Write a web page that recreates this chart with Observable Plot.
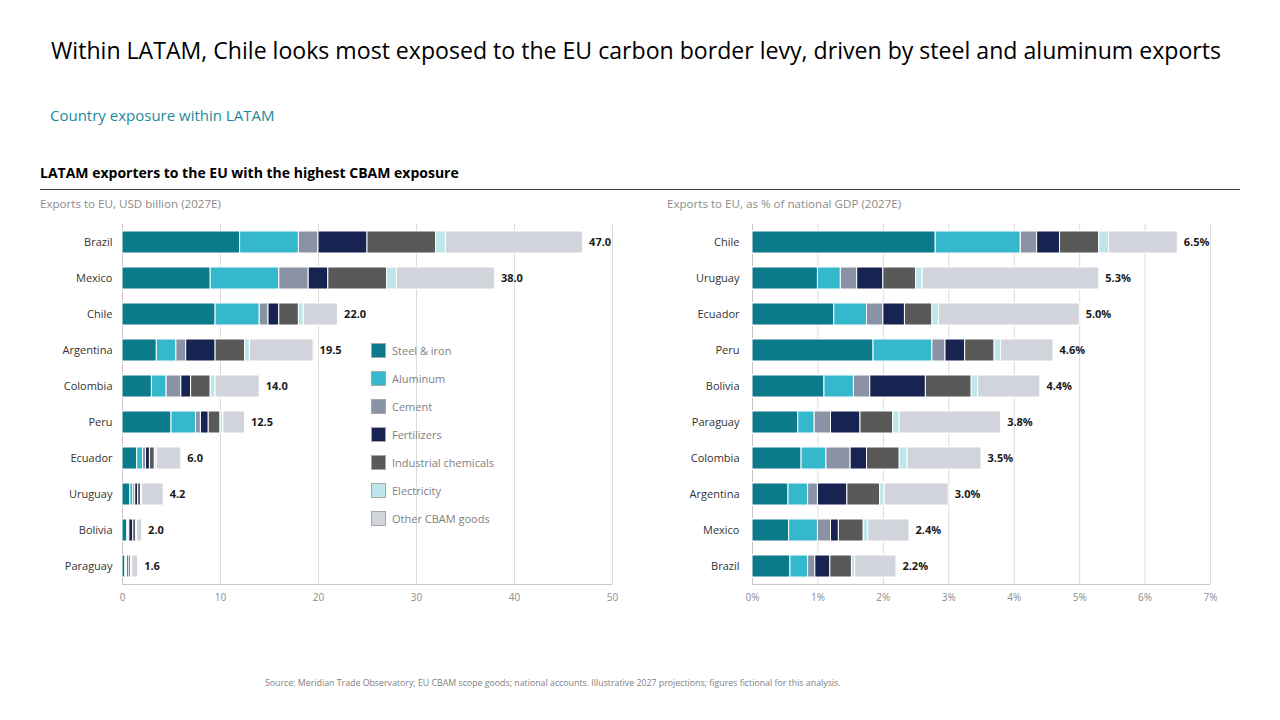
<!DOCTYPE html>
<html>
<head>
<meta charset="utf-8">
<script src="https://cdn.jsdelivr.net/npm/d3@7"></script>
<script src="https://cdn.jsdelivr.net/npm/@observablehq/plot@0.6"></script>
<style>
  html, body { margin: 0; padding: 0; background: #fff; }
  body { font-family: "Open Sans", "Noto Sans", sans-serif; }
  #page { position: relative; width: 1280px; height: 720px; overflow: hidden; }
  .abs { position: absolute; white-space: nowrap; }
  #title { left: 51px; top: 34px; font-size: 23.1px; color: #000; }
  #subtitle { left: 50px; top: 105px; font-size: 15px; color: #1b8a99; }
  #section { left: 40px; top: 163px; font-size: 14px; font-weight: 700; color: #000; }
  #rule { left: 40px; top: 189px; width: 1200px; height: 1px; background: #404040; }
  .caption { top: 196px; font-size: 11.6px; color: #8c8c8c; }
  #capL { left: 40px; }
  #capR { left: 667px; }
  #chartL { left: 0; top: 214px; }
  #chartR { left: 640px; top: 214px; }
  #legend { left: 371px; top: 336px; }
  .lg-row { display: flex; align-items: center; height: 28px; }
  .lg-sw { width: 15px; height: 15px; border: 1px solid #a6a6a6; box-sizing: border-box; margin-right: 6px; }
  .lg-lab { font-size: 11px; color: #7f7f7f; }
  #source { left: 265px; top: 677px; font-size: 8.8px; color: #808080; }
</style>
</head>
<body>
<div id="page">
  <div id="title" class="abs">Within LATAM, Chile looks most exposed to the EU carbon border levy, driven by steel and aluminum exports</div>
  <div id="subtitle" class="abs">Country exposure within LATAM</div>
  <div id="section" class="abs">LATAM exporters to the EU with the highest CBAM exposure</div>
  <div id="rule" class="abs"></div>
  <div id="capL" class="abs caption">Exports to EU, USD billion (2027E)</div>
  <div id="capR" class="abs caption">Exports to EU, as % of national GDP (2027E)</div>
  <div id="chartL" class="abs"></div>
  <div id="chartR" class="abs"></div>
  <div id="legend" class="abs"></div>
  <div id="source" class="abs">Source: Meridian Trade Observatory; EU CBAM scope goods; national accounts. Illustrative 2027 projections; figures fictional for this analysis.</div>
</div>
<script>
// CBAM goods categories, in stacking order, with their colours
const categories = ["Steel & iron", "Aluminum", "Cement", "Fertilizers", "Industrial chemicals", "Electricity", "Other CBAM goods"];
const categoryColors = ["#0b7a8b", "#35b8cb", "#8a93a6", "#172452", "#595959", "#bee7ec", "#d1d4db"];

// Exports to EU, USD billion (2027E)
const countriesUSD = ["Brazil", "Mexico", "Chile", "Argentina", "Colombia", "Peru", "Ecuador", "Uruguay", "Bolivia", "Paraguay"];
const steelUSD    = [12, 9, 9.5, 3.5, 3, 5, 1.5, 0.8, 0.5, 0.3];
const aluminumUSD = [6, 7, 4.5, 2, 1.5, 2.5, 0.6, 0.3, 0.1, 0.1];
const cementUSD   = [2, 3, 0.9, 1, 1.5, 0.5, 0.3, 0.2, 0.1, 0.1];
const fertUSD     = [5, 2, 1.1, 3, 1, 0.8, 0.4, 0.3, 0.4, 0.2];
const chemUSD     = [7, 6, 2, 3, 2, 1.2, 0.5, 0.3, 0.3, 0.2];
const elecUSD     = [1, 1, 0.5, 0.5, 0.5, 0.3, 0.2, 0.1, 0.1, 0.1];
const otherUSD    = [14, 10, 3.5, 6.5, 4.5, 2.2, 2.5, 2.2, 0.5, 0.6];
const xTicksUSD   = [0, 10, 20, 30, 40, 50];

// Exports to EU, % of national GDP (2027E)
const countriesGDP = ["Chile", "Uruguay", "Ecuador", "Peru", "Bolivia", "Paraguay", "Colombia", "Argentina", "Mexico", "Brazil"];
const steelGDP    = [2.8, 1.0, 1.25, 1.85, 1.1, 0.7, 0.75, 0.55, 0.56, 0.58];
const aluminumGDP = [1.3, 0.35, 0.5, 0.9, 0.45, 0.25, 0.38, 0.3, 0.44, 0.27];
const cementGDP   = [0.25, 0.25, 0.25, 0.2, 0.25, 0.25, 0.37, 0.15, 0.2, 0.11];
const fertGDP     = [0.35, 0.4, 0.33, 0.3, 0.85, 0.45, 0.25, 0.45, 0.12, 0.23];
const chemGDP     = [0.6, 0.5, 0.42, 0.45, 0.7, 0.5, 0.5, 0.5, 0.38, 0.33];
const elecGDP     = [0.15, 0.1, 0.1, 0.1, 0.1, 0.1, 0.12, 0.07, 0.07, 0.05];
const otherGDP    = [1.05, 2.7, 2.15, 0.8, 0.95, 1.55, 1.13, 0.98, 0.63, 0.63];
const xTicksGDP   = [0, 1, 2, 3, 4, 5, 6, 7];

const FONT = "'Open Sans', 'Noto Sans', sans-serif";

function longRows(countries, series) {
  const rows = [];
  countries.forEach((c, i) => {
    categories.forEach((cat, k) => rows.push({country: c, category: cat, value: series[k][i]}));
  });
  return rows;
}
function totals(countries, series) {
  return countries.map((c, i) => ({
    country: c,
    total: Math.round(d3.sum(series, s => s[i]) * 100) / 100
  }));
}

// Baseline drawn along the bottom of the plotting area
function bottomLine(...args) {
  const dims = args.find(a => a && typeof a === "object" && "marginLeft" in a && "width" in a);
  if (!dims) return null;
  const y = dims.height - dims.marginBottom + 0.5;
  const line = document.createElementNS("http://www.w3.org/2000/svg", "line");
  line.setAttribute("x1", dims.marginLeft);
  line.setAttribute("x2", dims.width - dims.marginRight);
  line.setAttribute("y1", y);
  line.setAttribute("y2", y);
  line.setAttribute("stroke", "#c6c6c6");
  return line;
}

function stackedChart({countries, series, ticks, tickFormat, width, marginLeft, marginRight, labelPad, fmt}) {
  const rows = longRows(countries, series);
  const tot = totals(countries, series);
  return Plot.plot({
    width, height: 400,
    marginLeft, marginRight, marginTop: 10, marginBottom: 30,
    style: {fontFamily: FONT, fontSize: "11px", background: "transparent", overflow: "visible"},
    x: {domain: [ticks[0], ticks[ticks.length - 1]], label: null},
    y: {domain: countries, paddingInner: 0.39, paddingOuter: 0.195, label: null},
    color: {domain: categories, range: categoryColors},
    marks: [
      Plot.gridX(ticks, {stroke: "#dcdcdc", strokeOpacity: 1}),
      Plot.ruleX([ticks[0]], {stroke: "#c6c6c6"}),
      bottomLine,
      Plot.barX(rows, Plot.stackX({x: "value", y: "country", fill: "category", stroke: "white", strokeWidth: 1})),
      Plot.text(tot, {x: "total", y: "country", text: d => fmt(d.total), dx: 6, textAnchor: "start",
        fontWeight: "bold", fill: "#1a1a1a", fontSize: 11}),
      Plot.axisY({tickSize: 0, tickPadding: labelPad, fill: "#333", fontSize: 11, label: null}),
      Plot.axisX({ticks, tickFormat, tickSize: 0, tickPadding: 9, fill: "#8c8c8c", fontSize: 10, label: null})
    ]
  });
}

document.getElementById("chartL").append(stackedChart({
  countries: countriesUSD,
  series: [steelUSD, aluminumUSD, cementUSD, fertUSD, chemUSD, elecUSD, otherUSD],
  ticks: xTicksUSD, tickFormat: d => String(d),
  width: 640, marginLeft: 122, marginRight: 28, labelPad: 10,
  fmt: v => v.toFixed(1)
}));

document.getElementById("chartR").append(stackedChart({
  countries: countriesGDP,
  series: [steelGDP, aluminumGDP, cementGDP, fertGDP, chemGDP, elecGDP, otherGDP],
  ticks: xTicksGDP, tickFormat: d => d + "%",
  width: 600, marginLeft: 112, marginRight: 30, labelPad: 13,
  fmt: v => v.toFixed(1) + "%"
}));

// Legend for the CBAM categories
const legend = document.getElementById("legend");
categories.forEach((cat, k) => {
  const row = document.createElement("div");
  row.className = "lg-row";
  row.innerHTML = `<div class="lg-sw" style="background:${categoryColors[k]}"></div><div class="lg-lab">${cat.replace("&", "&amp;")}</div>`;
  legend.append(row);
});
</script>
</body>
</html>
